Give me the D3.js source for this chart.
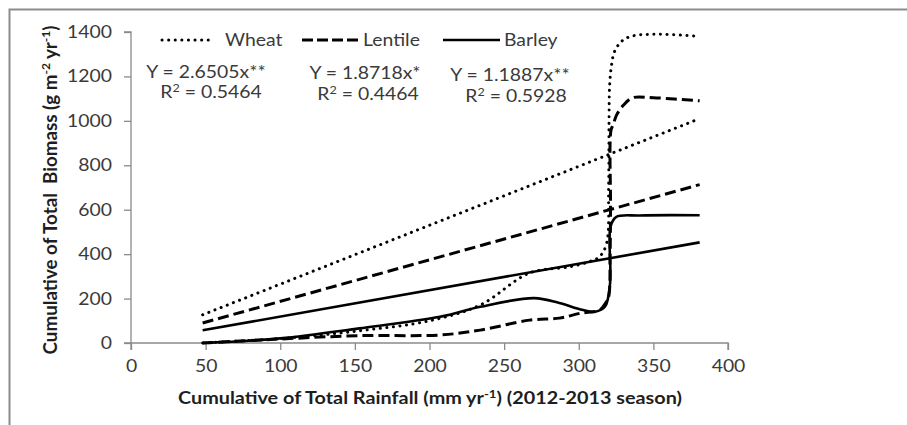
<!DOCTYPE html>
<html>
<head>
<meta charset="utf-8">
<script src="https://cdn.jsdelivr.net/npm/d3@7"></script>
<style>
  body { margin: 0; background: #fff; }
  svg { display: block; font-family: Lato, "Open Sans", sans-serif; }
</style>
</head>
<body>
<svg id="chart" width="907" height="425"></svg>
<script>
const wheatRain = [48, 100, 153, 200, 234, 267, 294, 307, 314, 318.7, 320, 320.3, 320.7, 322, 324, 329, 336, 354, 381];
const wheatBio = [0, 20, 55, 100, 171, 315, 343, 366, 389, 450, 700, 1000, 1160, 1252, 1312, 1360, 1382, 1390, 1380];

const lentileRain = [48, 100, 153, 207, 234, 267, 287, 301, 314, 318, 320, 321, 321.3, 321.6, 323, 325.4, 330, 336, 350, 381];
const lentileBio = [0, 18, 33, 36, 58, 103, 112, 134, 148, 180, 207, 400, 612, 958, 981, 1027, 1071, 1104, 1104, 1090];

const barleyRain = [48, 100, 153, 207, 234, 270, 287, 302, 311, 317.6, 321, 321.3, 325, 341, 381];
const barleyBio = [0, 21, 66, 118, 163, 202, 180, 150, 141, 164, 270, 524, 567, 574, 575];

// trend lines (end points as drawn)
const trendRain = [48, 381];
const wheatTrend = [127, 1010];
const lentileTrend = [90, 713];
const barleyTrend = [57, 453];

const seriesNames = ["Wheat", "Lentile", "Barley"];
const equations = ["Y = 2.6505x**", "Y = 1.8718x*", "Y = 1.1887x**"];
const r2Values = ["0.5464", "0.4464", "0.5928"];

const xTicks = [0, 50, 100, 150, 200, 250, 300, 350, 400];
const yTicks = [0, 200, 400, 600, 800, 1000, 1200, 1400];

const STYLE = {
  Wheat: { width: 3, dash: "0.1,6.5", cap: "round" },
  Lentile: { width: 3, dash: "11,5", cap: "butt" },
  Barley: { width: 2.6, dash: null, cap: "butt" },
};
const SX = 1.14; // picture is stretched sideways
const TEXT = "#3a3a3a";
const AXIS = "#8a8a8a";

const svg = d3.select("#chart");

// frame
svg.append("path")
  .attr("d", "M9.5,425 V9.5 H907")
  .attr("fill", "none")
  .attr("stroke", "#8c8c8c")
  .attr("stroke-width", 2);

const x = d3.scaleLinear().domain([0, 400]).range([131, 728]);
const y = d3.scaleLinear().domain([0, 1400]).range([343, 32]);

function stretch(sel, k = SX) {
  sel.each(function () {
    const len = this.getComputedTextLength();
    d3.select(this).attr("textLength", len * k).attr("lengthAdjust", "spacingAndGlyphs");
  });
}

const xAxis = svg.append("g")
  .attr("transform", `translate(0,${y(0)})`)
  .call(d3.axisBottom(x).tickValues(xTicks).tickSize(7).tickPadding(10).tickFormat(d3.format("d")));
const yAxis = svg.append("g")
  .attr("transform", `translate(${x(0)},0)`)
  .call(d3.axisLeft(y).tickValues(yTicks).tickSize(7).tickPadding(12).tickFormat(d3.format("d")));

[xAxis, yAxis].forEach((g) => {
  g.select(".domain").attr("stroke", AXIS).attr("stroke-width", 1.3);
  g.selectAll(".tick line").attr("stroke", AXIS).attr("stroke-width", 1.3);
  g.selectAll(".tick text")
    .attr("fill", TEXT)
    .attr("font-size", 17)
    .attr("font-family", "Lato, sans-serif");
});
xAxis.select(".domain").attr("d", `M${x(0)},7V0H${x(400)}V7`);
yAxis.select(".domain").attr("d", `M-7,${y(1400)}H0V${y(0)}H-7`);
stretch(xAxis.selectAll(".tick text"));
stretch(yAxis.selectAll(".tick text"));

const line = d3.line()
  .x((d) => x(d[0]))
  .y((d) => y(d[1]))
  .curve(d3.curveCatmullRom.alpha(0.5));

const zip = (a, b) => a.map((v, i) => [v, b[i]]);

const curves = [
  { name: "Wheat", data: zip(wheatRain, wheatBio) },
  { name: "Lentile", data: zip(lentileRain, lentileBio) },
  { name: "Barley", data: zip(barleyRain, barleyBio) },
  { name: "Wheat", data: zip(trendRain, wheatTrend) },
  { name: "Lentile", data: zip(trendRain, lentileTrend) },
  { name: "Barley", data: zip(trendRain, barleyTrend) },
];

svg.append("g")
  .selectAll("path")
  .data(curves)
  .join("path")
  .attr("fill", "none")
  .attr("stroke", "#000")
  .attr("stroke-width", (d) => STYLE[d.name].width)
  .attr("stroke-dasharray", (d) => STYLE[d.name].dash)
  .attr("stroke-linecap", (d) => STYLE[d.name].cap)
  .attr("d", (d) => line(d.data));

// legend
const legendX = [162, 302, 443];
const legend = svg.append("g")
  .selectAll("g")
  .data(seriesNames)
  .join("g")
  .attr("transform", (d, i) => `translate(${legendX[i]},40)`);
legend.append("line")
  .attr("x1", 0)
  .attr("x2", (d) => (d === "Wheat" ? 50 : 57))
  .attr("stroke", "#000")
  .attr("stroke-width", (d) => STYLE[d].width)
  .attr("stroke-dasharray", (d) => (d === "Lentile" ? "11,4" : STYLE[d].dash))
  .attr("stroke-linecap", (d) => STYLE[d].cap);
legend.append("text")
  .attr("x", (d) => (d === "Wheat" ? 63 : 61))
  .attr("y", 6)
  .attr("fill", TEXT)
  .attr("font-size", 17)
  .text((d) => d)
  .call(stretch);

// equations
const eqX = [206, 365, 510];
const r2X = [211, 368, 516];
svg.append("g")
  .selectAll("text")
  .data(equations)
  .join("text")
  .attr("x", (d, i) => eqX[i])
  .attr("y", (d, i) => 77.5 + i * 1.5)
  .attr("text-anchor", "middle")
  .attr("fill", TEXT)
  .attr("font-size", 17)
  .text((d) => d)
  .call(stretch);

const r2 = svg.append("g")
  .selectAll("text")
  .data(r2Values)
  .join("text")
  .attr("x", (d, i) => r2X[i])
  .attr("y", (d, i) => 98 + i * 2)
  .attr("text-anchor", "middle")
  .attr("fill", TEXT)
  .attr("font-size", 17);
r2.append("tspan").text("R");
r2.append("tspan").attr("font-size", 11).attr("dy", -6).text("2");
r2.append("tspan").attr("dy", 6).text((d) => " = " + d);
r2.call(stretch);

// axis titles
const xTitle = svg.append("text")
  .attr("x", 430)
  .attr("y", 404)
  .attr("text-anchor", "middle")
  .attr("font-size", 16.5)
  .attr("font-weight", "bold")
  .attr("fill", "#1e1e1e");
xTitle.append("tspan").text("Cumulative of Total Rainfall (mm yr");
xTitle.append("tspan").attr("font-size", 11).attr("dy", -6).text("-1");
xTitle.append("tspan").attr("dy", 6).text(") (2012-2013 season)");
xTitle.call(stretch, 1.2);

const yTitle = svg.append("text")
  .attr("transform", "translate(57,190) rotate(-90)")
  .attr("text-anchor", "middle")
  .attr("font-size", 18.8)
  .attr("font-weight", "bold")
  .attr("fill", "#1e1e1e")
  .style("white-space", "pre");
yTitle.append("tspan").text("Cumulative of Total  Biomass (g m");
yTitle.append("tspan").attr("font-size", 12).attr("dy", -7).text("-2");
yTitle.append("tspan").attr("dy", 7).text(" yr");
yTitle.append("tspan").attr("font-size", 12).attr("dy", -7).text("-1");
yTitle.append("tspan").attr("dy", 7).text(")");
</script>
</body>
</html>
